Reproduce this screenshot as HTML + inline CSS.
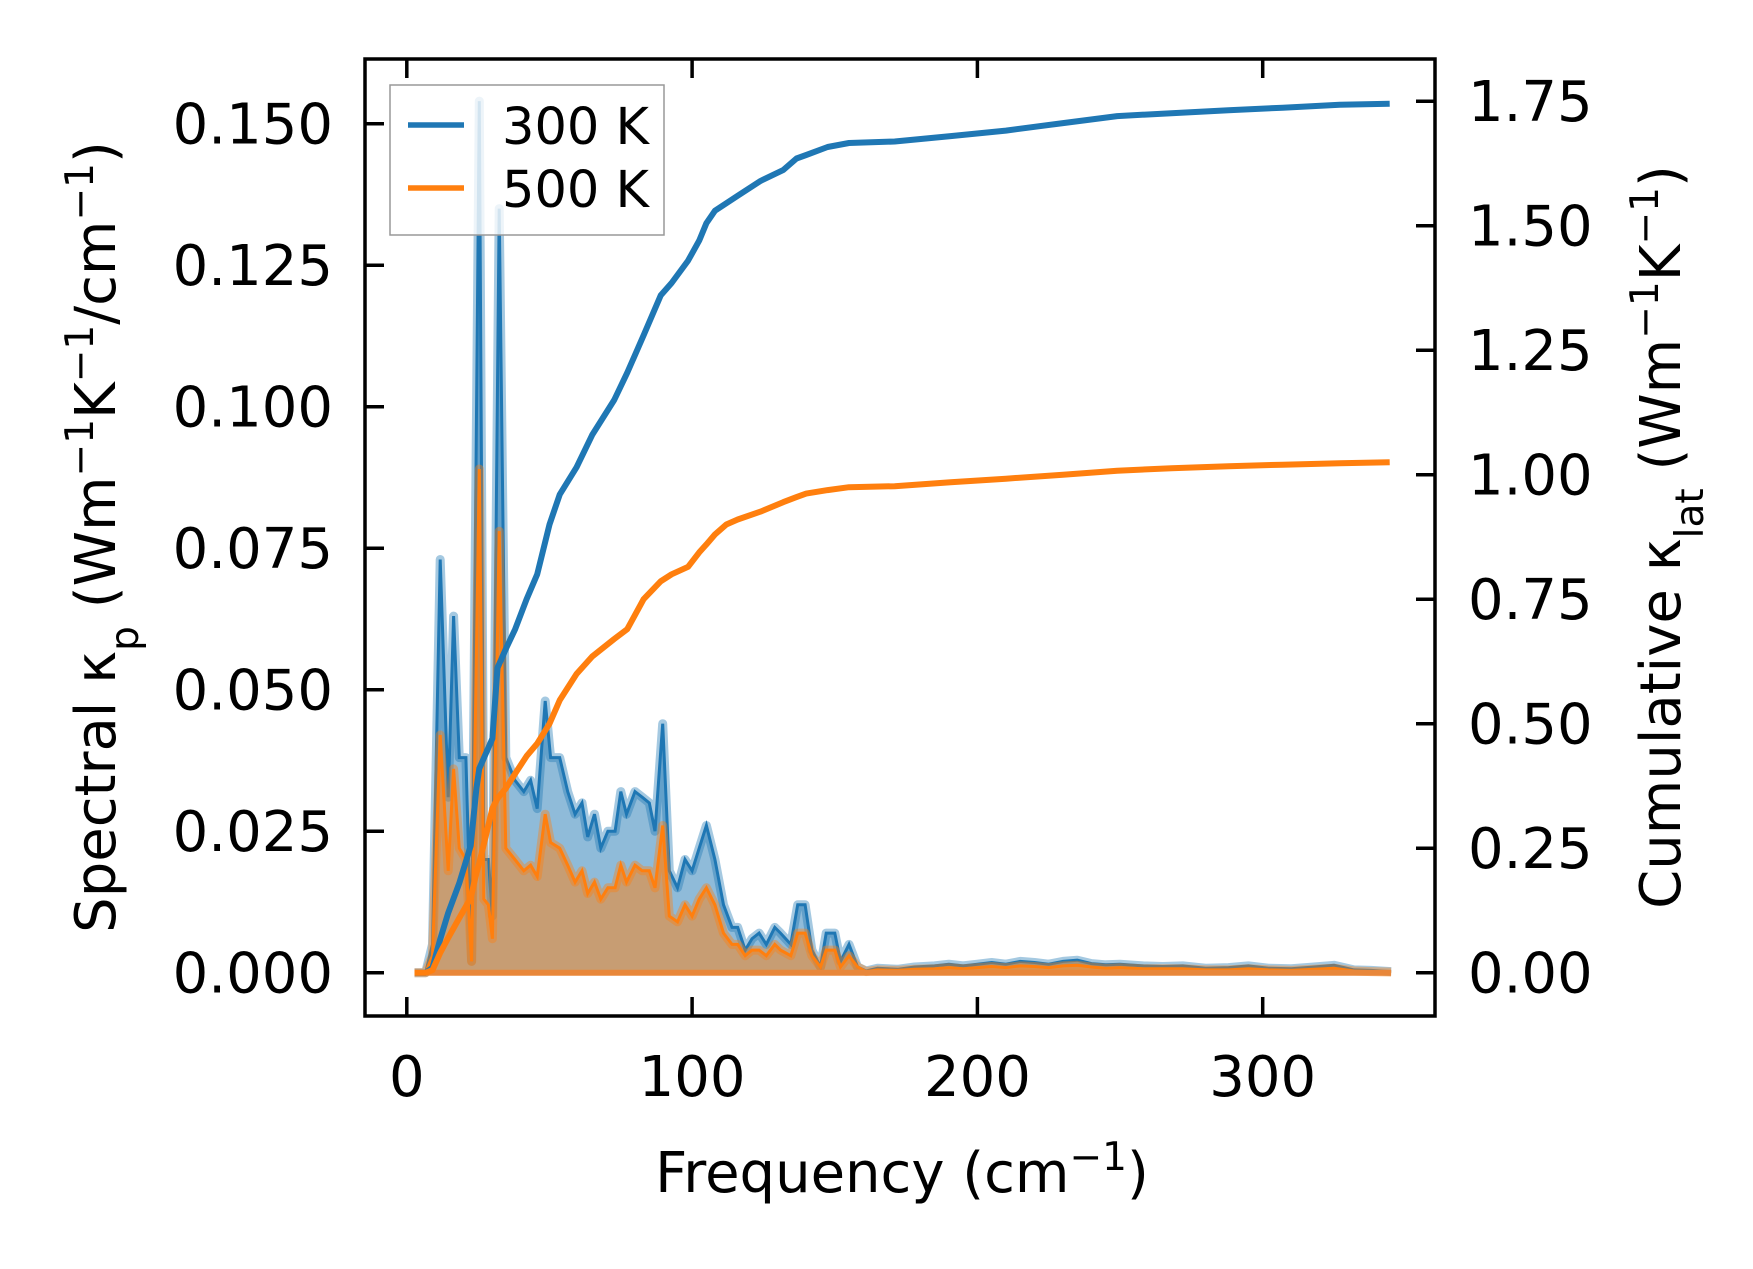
<!DOCTYPE html>
<html><head><meta charset="utf-8"><style>
html,body{margin:0;padding:0;background:#fff;}
svg text{font-family:"DejaVu Sans","Liberation Sans",sans-serif;fill:#000;}
</style></head><body>
<svg id="chart" width="1753" height="1264" viewBox="0 0 1753 1264" xmlns="http://www.w3.org/2000/svg">
<defs><clipPath id="clip"><rect x="365" y="59" width="1070" height="957"/></clipPath></defs>
<g id="marks" clip-path="url(#clip)"></g>
<rect x="365" y="59" width="1070" height="957" fill="none" stroke="#000" stroke-width="3.5"/>
<g id="axes"></g>
<g>
<rect x="390" y="85" width="274" height="150" fill="#fff" fill-opacity="0.8" stroke="#999" stroke-width="1.5"/>
<line x1="408" y1="125" x2="464" y2="125" stroke="#1f77b4" stroke-width="5.5"/>
<text x="502" y="144" font-size="51">300 K</text>
<line x1="408" y1="188" x2="464" y2="188" stroke="#ff7f0e" stroke-width="5.5"/>
<text x="502" y="207" font-size="51">500 K</text>
</g>
<text x="902" y="1192" font-size="56" text-anchor="middle">Frequency (cm<tspan baseline-shift="super" font-size="39">−1</tspan>)</text>
<text transform="translate(115,537) rotate(-90)" font-size="56" text-anchor="middle">Spectral κ<tspan baseline-shift="sub" font-size="39">p</tspan> (Wm<tspan baseline-shift="super" font-size="39">−1</tspan>K<tspan baseline-shift="super" font-size="39">−1</tspan>/cm<tspan baseline-shift="super" font-size="39">−1</tspan>)</text>
<text transform="translate(1680,537) rotate(-90)" font-size="56" text-anchor="middle">Cumulative κ<tspan baseline-shift="sub" font-size="39">lat</tspan> (Wm<tspan baseline-shift="super" font-size="39">−1</tspan>K<tspan baseline-shift="super" font-size="39">−1</tspan>)</text>
</svg>
<script>
const freq = [2.7,6.6,9,11.7,14.5,16.4,18.4,20.7,22.7,25.4,27,28.6,30,32.4,34.7,37.9,41,43.4,45.7,48.5,50.4,53.6,56.4,59,61.4,63.4,65.8,68,70.5,73,75,77,80,82.5,85,87,89.7,92,94.9,97.5,100,102.5,105,108,111,114,116,118.6,121,123.5,126,129,131,134.6,137,139.6,142,145,147,150,152,155,158,161,165,172,178,185,190,195,200,205,210,215,220,225,230,235,240,245,250,258,265,272,280,288,295,302,310,318,325,332,338,345];
const kp300 = [0,0,0.005,0.073,0.031,0.063,0.038,0.038,0.002,0.154,0.02,0.02,0.01,0.135,0.038,0.034,0.032,0.034,0.029,0.048,0.038,0.038,0.032,0.028,0.03,0.024,0.028,0.022,0.025,0.025,0.032,0.028,0.032,0.031,0.03,0.025,0.044,0.018,0.015,0.02,0.018,0.022,0.026,0.02,0.012,0.008,0.008,0.004,0.006,0.007,0.005,0.008,0.007,0.005,0.012,0.012,0.004,0.001,0.007,0.007,0.002,0.005,0.001,0.0003,0.0008,0.0006,0.001,0.0012,0.0015,0.0012,0.0015,0.0018,0.0015,0.002,0.0018,0.0015,0.002,0.0022,0.0016,0.0014,0.0015,0.0012,0.0011,0.0012,0.0008,0.0009,0.0012,0.0008,0.0007,0.001,0.0013,0.0005,0.0004,0.0002];
const kp500 = [0,0,0.003,0.042,0.018,0.036,0.022,0.02,0.002,0.089,0.013,0.012,0.006,0.078,0.022,0.02,0.018,0.019,0.017,0.028,0.023,0.022,0.019,0.016,0.018,0.014,0.016,0.013,0.015,0.015,0.019,0.016,0.019,0.018,0.018,0.015,0.026,0.01,0.009,0.012,0.01,0.013,0.015,0.012,0.007,0.005,0.005,0.003,0.004,0.004,0.003,0.005,0.004,0.003,0.007,0.007,0.003,0.001,0.004,0.004,0.001,0.003,0.001,0.0002,0.0005,0.0004,0.0006,0.0007,0.0009,0.0007,0.0009,0.0011,0.0009,0.0012,0.0011,0.0009,0.0012,0.0013,0.001,0.0008,0.0009,0.0007,0.0007,0.0007,0.0005,0.0005,0.0007,0.0005,0.0004,0.0006,0.0008,0.0003,0.0002,0.0001];
const cumFreq = [2.7,6.6,9,11.7,14.5,18.4,22.4,24.4,25.4,30,31.8,34.7,38,42,45.7,50,53.6,59.5,65,72.7,77.3,83,89,92.8,98.6,102.5,105,108,112,116,124,132,136.6,140,147.5,155,171,190.6,210,230,249,268,288,307,327,344.5];
const cum300 = [0,0,0.01,0.067,0.12,0.18,0.255,0.37,0.41,0.47,0.612,0.65,0.69,0.75,0.8,0.9,0.96,1.015,1.08,1.15,1.205,1.28,1.36,1.385,1.43,1.47,1.505,1.53,1.545,1.56,1.59,1.612,1.635,1.642,1.658,1.666,1.669,1.68,1.691,1.706,1.72,1.726,1.732,1.737,1.743,1.745];
const cum500 = [0,0,0.005,0.04,0.07,0.11,0.15,0.2,0.22,0.33,0.35,0.37,0.4,0.435,0.46,0.5,0.547,0.6,0.635,0.67,0.69,0.75,0.786,0.8,0.815,0.844,0.86,0.88,0.9,0.91,0.926,0.945,0.955,0.962,0.969,0.975,0.977,0.985,0.992,1.0,1.008,1.013,1.017,1.02,1.023,1.025];
const xTicks = [0,100,200,300];
const leftTicks = [0,0.025,0.05,0.075,0.1,0.125,0.15];
const leftTickLabels = ["0.000","0.025","0.050","0.075","0.100","0.125","0.150"];
const rightTicks = [0,0.25,0.5,0.75,1.0,1.25,1.5,1.75];
const rightTickLabels = ["0.00","0.25","0.50","0.75","1.00","1.25","1.50","1.75"];

const X = f => 406.8 + f * 2.853;
const YL = v => 972.7 - v * 5660;
const YR = v => 972.7 - v * 498;
const NS = "http://www.w3.org/2000/svg";
function mk(tag, attrs, parent) {
  const e = document.createElementNS(NS, tag);
  for (const k in attrs) e.setAttribute(k, attrs[k]);
  parent.appendChild(e);
  return e;
}
const marks = document.getElementById('marks');
const axes = document.getElementById('axes');
function linePts(xs, ys, Y) { return xs.map((f, i) => X(f).toFixed(1) + ',' + Y(ys[i]).toFixed(1)).join(' '); }
function areaPts(xs, ys) {
  return linePts(xs, ys, YL) + ' ' + X(xs[xs.length - 1]).toFixed(1) + ',' + YL(0) + ' ' + X(xs[0]).toFixed(1) + ',' + YL(0);
}
const a300 = mk('polygon', {points: areaPts(freq, kp300), fill: '#1f77b4', 'fill-opacity': 0.5}, marks);


const o300 = mk('polyline', {points: linePts(freq, kp300, YL), fill: 'none', stroke: '#1f77b4', 'stroke-opacity': 0.4, 'stroke-width': 9, 'stroke-linejoin': 'round'}, marks);


const l300 = mk('polyline', {points: linePts(freq, kp300, YL), fill: 'none', stroke: '#1f77b4', 'stroke-width': 3}, marks);


const a500 = mk('polygon', {points: areaPts(freq, kp500), fill: '#ff7f0e', 'fill-opacity': 0.5}, marks);


const o500 = mk('polyline', {points: linePts(freq, kp500, YL), fill: 'none', stroke: '#ff7f0e', 'stroke-opacity': 0.4, 'stroke-width': 9, 'stroke-linejoin': 'round'}, marks);


const l500 = mk('polyline', {points: linePts(freq, kp500, YL), fill: 'none', stroke: '#ff7f0e', 'stroke-width': 3}, marks);


const base = mk('line', {x1: X(freq[0]), y1: YL(0), x2: X(freq[freq.length - 1]), y2: YL(0), stroke: '#e8873a', 'stroke-width': 6}, marks);


const c300 = mk('polyline', {points: linePts(cumFreq, cum300, YR), fill: 'none', stroke: '#1f77b4', 'stroke-width': 6, 'stroke-linejoin': 'round'}, marks);


const c500 = mk('polyline', {points: linePts(cumFreq, cum500, YR), fill: 'none', stroke: '#ff7f0e', 'stroke-width': 6, 'stroke-linejoin': 'round'}, marks);


xTicks.forEach(t => {
  const x = X(t);
  const b = mk('line', {x1: x, y1: 1016, x2: x, y2: 997, stroke: '#000', 'stroke-width': 3.5}, axes);
  
  
  const tp = mk('line', {x1: x, y1: 59, x2: x, y2: 78, stroke: '#000', 'stroke-width': 3.5}, axes);
  
  
  const lb = mk('text', {x: x, y: 1096, 'font-size': 56, 'text-anchor': 'middle'}, axes);
  lb.textContent = String(t);
  
  
});
leftTicks.forEach((t, i) => {
  const y = YL(t);
  const k = mk('line', {x1: 365, y1: y, x2: 384, y2: y, stroke: '#000', 'stroke-width': 3.5}, axes);
  
  
  const lb = mk('text', {x: 333, y: y + 20, 'font-size': 56, 'text-anchor': 'end'}, axes);
  lb.textContent = leftTickLabels[i];
  
  
});
rightTicks.forEach((t, i) => {
  const y = YR(t);
  const k = mk('line', {x1: 1435, y1: y, x2: 1416, y2: y, stroke: '#000', 'stroke-width': 3.5}, axes);
  
  
  const lb = mk('text', {x: 1468, y: y + 20, 'font-size': 56}, axes);
  lb.textContent = rightTickLabels[i];
  
  
});
</script>
</body></html>
